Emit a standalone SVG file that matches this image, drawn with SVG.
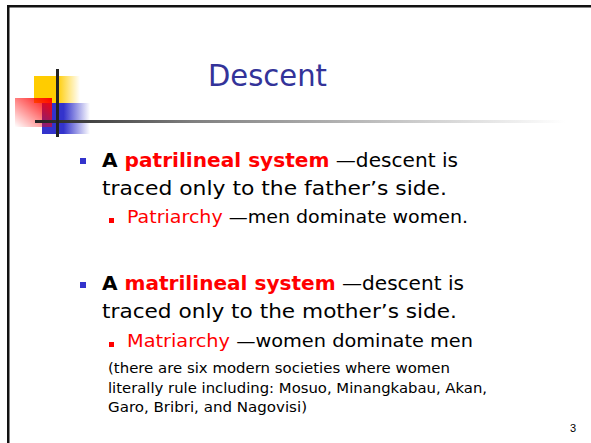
<svg xmlns="http://www.w3.org/2000/svg" width="591" height="443" viewBox="0 0 591 443">
<defs>
<linearGradient id="gY" x1="0" y1="0" x2="1" y2="0"><stop offset="0.5" stop-color="#ffcc00"/><stop offset="1" stop-color="#ffcc00" stop-opacity="0"/></linearGradient>
<linearGradient id="gB" x1="0" y1="0" x2="1" y2="0"><stop offset="0.45" stop-color="#3333cc"/><stop offset="1" stop-color="#3333cc" stop-opacity="0"/></linearGradient>
<linearGradient id="gR" x1="1" y1="0" x2="0" y2="1"><stop offset="0" stop-color="#ff0000"/><stop offset="1" stop-color="#ff0000" stop-opacity="0"/></linearGradient>
<linearGradient id="gL" gradientUnits="userSpaceOnUse" x1="35" y1="0" x2="565" y2="0"><stop offset="0" stop-color="#222222"/><stop offset="0.3" stop-color="#808080"/><stop offset="1" stop-color="#ffffff"/></linearGradient>
</defs>
<style>
.t{font-family:"Comic Sans MS","DejaVu Sans",sans-serif;fill:#000}
.b{font-weight:bold}
.r{fill:#ff0000}
</style>
<rect width="591" height="443" fill="#fff"/>
<g id="frame">
<rect x="7" y="5" width="584" height="2.5" fill="#111"/>
<rect x="7" y="5" width="2.5" height="438" fill="#111"/>
</g>
<g id="logo">
<rect x="34" y="76" width="46" height="27" fill="url(#gY)"/>
<rect x="42" y="103" width="48" height="31" fill="url(#gB)"/>
<rect x="15" y="98" width="37" height="29" fill="url(#gR)"/>
<rect x="35" y="120" width="530" height="3" fill="url(#gL)"/>
<rect x="56" y="69" width="3" height="68" fill="#222"/>
</g>
<g id="title">
<text x="208" y="86" font-family="'Comic Sans MS','DejaVu Sans',sans-serif" font-size="30" fill="#333399" textLength="119" lengthAdjust="spacingAndGlyphs">Descent</text>
</g>
<g id="bullet1">
<rect x="80" y="158" width="6" height="6" fill="#3333cc"/>
<text class="t" x="102" y="167" font-size="20" textLength="356" lengthAdjust="spacingAndGlyphs"><tspan class="b">A </tspan><tspan class="b r">patrilineal system</tspan> —descent is</text>
<text class="t" x="102" y="195" font-size="20" textLength="345" lengthAdjust="spacingAndGlyphs">traced only to the father’s side.</text>
<rect x="109" y="218" width="5" height="5" fill="#ff0000"/>
<text class="t" x="127" y="223" font-size="18" textLength="341" lengthAdjust="spacingAndGlyphs"><tspan class="r">Patriarchy</tspan> —men dominate women.</text>
</g>
<g id="bullet2">
<rect x="80" y="282" width="6" height="6" fill="#3333cc"/>
<text class="t" x="102" y="290" font-size="20" textLength="362" lengthAdjust="spacingAndGlyphs"><tspan class="b">A </tspan><tspan class="b r">matrilineal system</tspan> —descent is</text>
<text class="t" x="102" y="318" font-size="20" textLength="355" lengthAdjust="spacingAndGlyphs">traced only to the mother’s side.</text>
<rect x="109" y="342" width="5" height="5" fill="#ff0000"/>
<text class="t" x="127" y="347" font-size="18" textLength="346" lengthAdjust="spacingAndGlyphs"><tspan class="r">Matriarchy</tspan> —women dominate men</text>
<text class="t" x="108" y="373" font-size="14" textLength="342" lengthAdjust="spacingAndGlyphs">(there are six modern societies where women</text>
<text class="t" x="108" y="393" font-size="14" textLength="379" lengthAdjust="spacingAndGlyphs">literally rule including: Mosuo, Minangkabau, Akan,</text>
<text class="t" x="108" y="412" font-size="14" textLength="199" lengthAdjust="spacingAndGlyphs">Garo, Bribri, and Nagovisi)</text>
</g>
<g id="page">
<text x="576" y="432" text-anchor="end" font-family="'Liberation Sans',sans-serif" font-size="11" fill="#000">3</text>
</g>
</svg>
